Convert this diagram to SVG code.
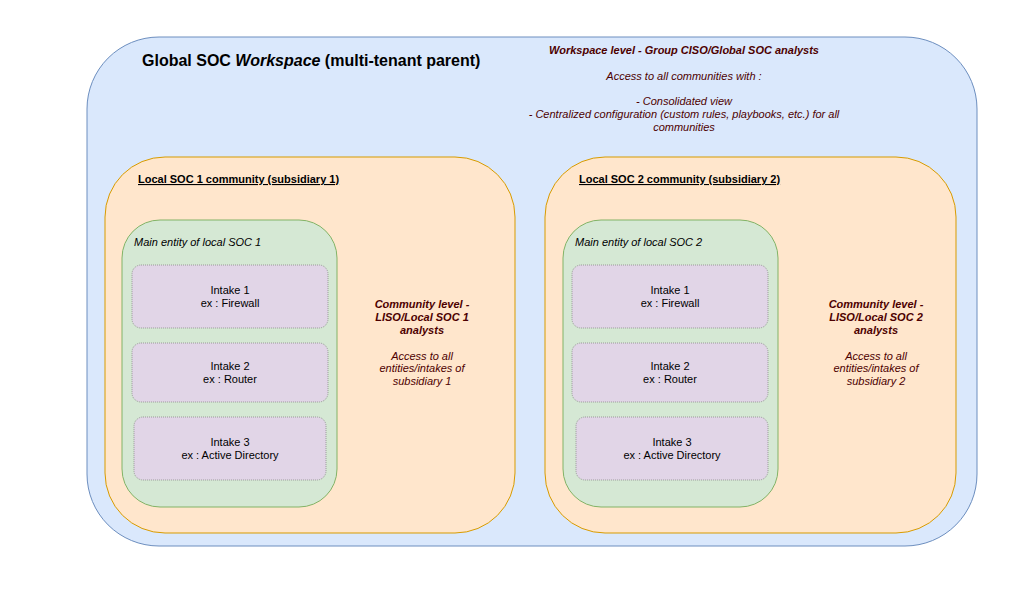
<svg xmlns="http://www.w3.org/2000/svg" width="1024" height="590" viewBox="0 0 1024 590">
<style>
text{font-family:"Liberation Sans",Arial,sans-serif;font-size:11px;fill:#000}
.ws{fill:#dae8fc;stroke:#6c8ebf;stroke-width:1}
.com{fill:#ffe6cc;stroke:#d79b00;stroke-width:1}
.ent{fill:#d5e8d4;stroke:#82b366;stroke-width:1}
.in{fill:#e1d5e7;stroke:#999999;stroke-width:1;stroke-dasharray:1 1}
.c{text-anchor:middle}
.red{fill:#4d0000;font-style:italic}
.b{font-weight:bold}
.i{font-style:italic}
.u{text-decoration:underline;font-weight:bold}
</style>
<rect width="1024" height="590" fill="#ffffff"/>
<g id="workspace">
<rect class="ws" x="87" y="37" width="890" height="509" rx="72" ry="72"/>
<text x="142" y="66" style="font-size:16px;font-weight:bold">Global SOC <tspan font-style="italic">Workspace</tspan> (multi-tenant parent)</text>
<text class="red b c" x="684" y="54">Workspace level - Group CISO/Global SOC analysts</text>
<text class="red c" x="684" y="80">Access to all communities with :</text>
<text class="red c" x="684" y="105">- Consolidated view</text>
<text class="red c" x="684" y="118">- Centralized configuration (custom rules, playbooks, etc.) for all</text>
<text class="red c" x="684" y="131">communities</text>
</g>
<g id="community1">
<rect class="com" x="105" y="157" width="410" height="376" rx="60" ry="60"/>
<text class="u" x="138" y="183">Local SOC 1 community (subsidiary 1)</text>
<text class="red b c" x="422" y="308">Community level -</text>
<text class="red b c" x="422" y="321">LISO/Local SOC 1</text>
<text class="red b c" x="422" y="334">analysts</text>
<text class="red c" x="422" y="360">Access to all</text>
<text class="red c" x="422" y="372">entities/intakes of</text>
<text class="red c" x="422" y="385">subsidiary 1</text>
</g>
<g id="community2">
<rect class="com" x="545" y="157" width="411" height="376" rx="60" ry="60"/>
<text class="u" x="579" y="183">Local SOC 2 community (subsidiary 2)</text>
<text class="red b c" x="876" y="308">Community level -</text>
<text class="red b c" x="876" y="321">LISO/Local SOC 2</text>
<text class="red b c" x="876" y="334">analysts</text>
<text class="red c" x="876" y="360">Access to all</text>
<text class="red c" x="876" y="372">entities/intakes of</text>
<text class="red c" x="876" y="385">subsidiary 2</text>
</g>
<g id="entity1">
<rect class="ent" x="122" y="220" width="215" height="287" rx="38" ry="38"/>
<text class="i" x="134" y="246">Main entity of local SOC 1</text>
</g>
<g id="entity2">
<rect class="ent" x="563" y="220" width="215" height="287" rx="38" ry="38"/>
<text class="i" x="575" y="246">Main entity of local SOC 2</text>
</g>
<g id="intake1-1">
<rect class="in" x="132" y="265" width="196" height="63" rx="9" ry="9"/>
<text class="c" x="230" y="294">Intake 1</text>
<text class="c" x="230" y="307">ex : Firewall</text>
</g>
<g id="intake1-2">
<rect class="in" x="132" y="343" width="196" height="59" rx="9" ry="9"/>
<text class="c" x="230" y="370">Intake 2</text>
<text class="c" x="230" y="383">ex : Router</text>
</g>
<g id="intake1-3">
<rect class="in" x="134" y="417" width="192" height="63" rx="9" ry="9"/>
<text class="c" x="230" y="446">Intake 3</text>
<text class="c" x="230" y="459">ex : Active Directory</text>
</g>
<g id="intake2-1">
<rect class="in" x="572" y="265" width="196" height="63" rx="9" ry="9"/>
<text class="c" x="670" y="294">Intake 1</text>
<text class="c" x="670" y="307">ex : Firewall</text>
</g>
<g id="intake2-2">
<rect class="in" x="572" y="343" width="196" height="59" rx="9" ry="9"/>
<text class="c" x="670" y="370">Intake 2</text>
<text class="c" x="670" y="383">ex : Router</text>
</g>
<g id="intake2-3">
<rect class="in" x="576" y="417" width="192" height="63" rx="9" ry="9"/>
<text class="c" x="672" y="446">Intake 3</text>
<text class="c" x="672" y="459">ex : Active Directory</text>
</g>
<g id="connectors"/>
</svg>
